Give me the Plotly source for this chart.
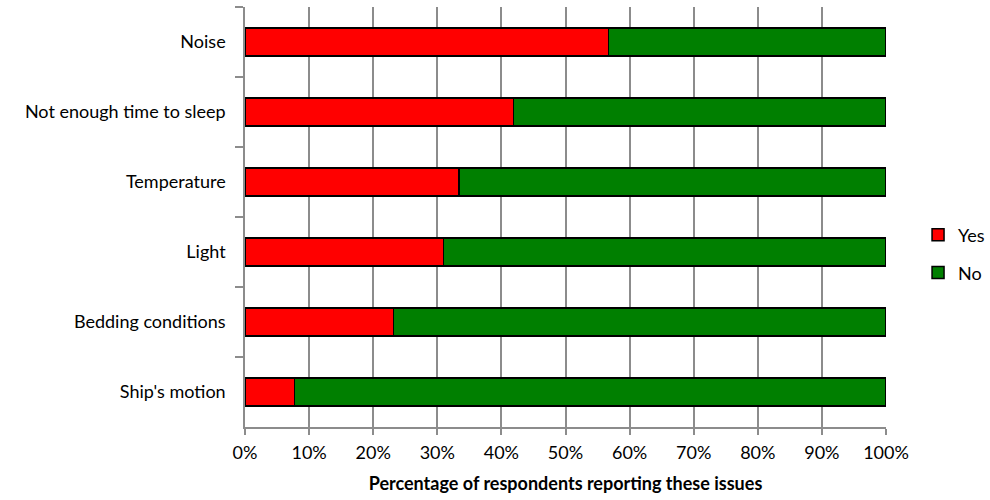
import plotly.graph_objects as go

categories = ["Noise", "Not enough time to sleep", "Temperature", "Light", "Bedding conditions", "Ship's motion"]
yes_vals = [56.7, 41.9, 33.4, 31.0, 23.2, 7.7]
no_vals = [100 - v for v in yes_vals]
x_ticks = list(range(0, 101, 10))
x_tick_labels = [f"{t}%" for t in x_ticks]

font_family = "Lato, 'Open Sans', sans-serif"
FS = 18

fig = go.Figure()
fig.add_trace(go.Bar(
    y=categories, x=yes_vals, orientation="h", name="Yes",
    marker=dict(color="#ff0000", line=dict(color="#000000", width=1.5)),
    legend="legend",
))
fig.add_trace(go.Bar(
    y=categories, x=no_vals, orientation="h", name="No",
    marker=dict(color="#007f00", line=dict(color="#000000", width=1.5)),
    legend="legend2",
))

fig.update_layout(
    width=990, height=500,
    margin=dict(l=245, r=104, t=7, b=73, autoexpand=False),
    barmode="stack", bargap=0.6,
    plot_bgcolor="white", paper_bgcolor="white",
    font=dict(family=font_family, size=FS, color="#000000"),
    legend=dict(x=1.05, y=0.457, xanchor="left", yanchor="middle",
                font=dict(size=FS), itemwidth=30, bgcolor="rgba(0,0,0,0)"),
    legend2=dict(x=1.05, y=0.367, xanchor="left", yanchor="middle",
                 font=dict(size=FS), itemwidth=30, bgcolor="rgba(0,0,0,0)"),
    showlegend=True,
)
fig.update_xaxes(
    range=[0, 100], tickvals=x_ticks, ticktext=x_tick_labels,
    showgrid=True, gridcolor="#8c8c8c", gridwidth=1.5,
    showline=True, linecolor="#8c8c8c", linewidth=1.5,
    ticks="outside", ticklen=6, tickcolor="#8c8c8c", tickwidth=1.5,
    tickfont=dict(size=FS), zeroline=False, ticklabelstandoff=3,
    title=dict(text="<b>Percentage of respondents reporting these issues</b>",
               font=dict(size=FS), standoff=15),
)
fig.update_yaxes(
    autorange="reversed", showgrid=False,
    showline=True, linecolor="#8c8c8c", linewidth=1.5,
    ticks="outside", ticklen=8, tickcolor="#8c8c8c", tickwidth=1.5,
    tickson="boundaries", ticklabelstandoff=14,
    tickfont=dict(size=FS),
)

fig.write_html("out.html")
